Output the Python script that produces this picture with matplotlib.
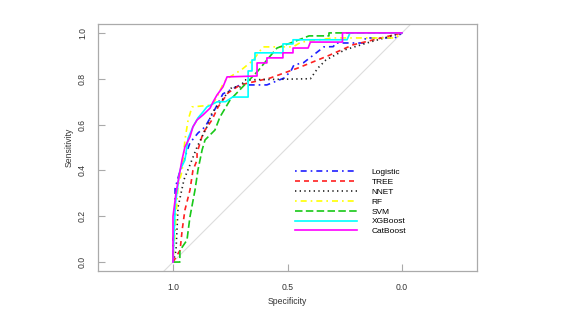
import matplotlib.pyplot as plt

plt.rcParams["font.family"] = ["Liberation Sans", "DejaVu Sans"]

# ROC curves (specificity, sensitivity)
logistic_spec = [1.0, 1.0, 0.991, 0.991, 0.969, 0.926, 0.891, 0.86, 0.83, 0.782, 0.707, 0.59, 0.515, 0.485, 0.472, 0.43, 0.341, 0.30, 0.29, 0.162, 0.16, 0.031, 0.0]
logistic_sens = [0.0, 0.10, 0.14, 0.32, 0.40, 0.52, 0.563, 0.59, 0.642, 0.734, 0.773, 0.773, 0.803, 0.834, 0.86, 0.87, 0.939, 0.94, 0.956, 0.956, 0.978, 0.978, 1.0]

tree_spec = [1.0, 0.969, 0.96, 0.948, 0.926, 0.913, 0.895, 0.895, 0.869, 0.83, 0.803, 0.76, 0.707, 0.576, 0.454, 0.323, 0.214, 0.0]
tree_sens = [0.0, 0.052, 0.14, 0.227, 0.314, 0.40, 0.445, 0.476, 0.563, 0.62, 0.677, 0.738, 0.773, 0.803, 0.847, 0.90, 0.948, 1.0]

nnet_spec = [1.0, 0.987, 0.978, 0.952, 0.926, 0.895, 0.852, 0.83, 0.786, 0.742, 0.707, 0.686, 0.40, 0.367, 0.332, 0.25, 0.14, 0.0]
nnet_sens = [0.0, 0.05, 0.24, 0.36, 0.424, 0.502, 0.59, 0.651, 0.707, 0.764, 0.764, 0.795, 0.80, 0.847, 0.882, 0.926, 0.96, 1.0]

rf_spec = [1.0, 0.987, 0.978, 0.96, 0.948, 0.934, 0.917, 0.83, 0.808, 0.78, 0.764, 0.70, 0.651, 0.607, 0.476, 0.44, 0.30, 0.03, 0.0]
rf_sens = [0.0, 0.20, 0.33, 0.40, 0.533, 0.62, 0.677, 0.685, 0.72, 0.78, 0.80, 0.84, 0.88, 0.939, 0.939, 0.96, 0.978, 0.978, 1.0]

svm_spec = [1.0, 0.97, 0.97, 0.939, 0.926, 0.904, 0.891, 0.873, 0.86, 0.817, 0.795, 0.751, 0.629, 0.59, 0.546, 0.463, 0.406, 0.319, 0.319, 0.0]
svm_sens = [0.0, 0.0, 0.05, 0.096, 0.197, 0.314, 0.402, 0.489, 0.533, 0.576, 0.633, 0.707, 0.834, 0.882, 0.934, 0.965, 0.987, 0.987, 1.0, 1.0]

xgb_spec = [1.0, 0.99, 0.97, 0.948, 0.934, 0.913, 0.891, 0.869, 0.852, 0.808, 0.77, 0.74, 0.672, 0.672, 0.655, 0.655, 0.642, 0.642, 0.52, 0.52, 0.476, 0.476, 0.24, 0.227, 0.0]
xgb_sens = [0.0, 0.25, 0.40, 0.445, 0.54, 0.59, 0.629, 0.655, 0.677, 0.699, 0.70, 0.72, 0.72, 0.834, 0.834, 0.882, 0.882, 0.913, 0.913, 0.952, 0.952, 0.97, 0.97, 1.0, 1.0]

cat_spec = [1.0, 1.0, 0.987, 0.961, 0.948, 0.926, 0.913, 0.895, 0.869, 0.838, 0.825, 0.808, 0.782, 0.773, 0.764, 0.633, 0.633, 0.59, 0.59, 0.52, 0.52, 0.476, 0.476, 0.41, 0.40, 0.26, 0.26, 0.0]
cat_sens = [0.0, 0.20, 0.30, 0.445, 0.502, 0.546, 0.59, 0.62, 0.642, 0.672, 0.699, 0.729, 0.764, 0.786, 0.808, 0.812, 0.869, 0.869, 0.891, 0.891, 0.913, 0.913, 0.934, 0.934, 0.96, 0.96, 1.0, 1.0]

models = ["Logistic", "TREE", "NNET", "RF", "SVM", "XGBoost", "CatBoost"]
specs = [logistic_spec, tree_spec, nnet_spec, rf_spec, svm_spec, xgb_spec, cat_spec]
senss = [logistic_sens, tree_sens, nnet_sens, rf_sens, svm_sens, xgb_sens, cat_sens]

colors = ["#1f1fff", "#ff2020", "#222222", "#ffff00", "#18c818", "#00ffff", "#ff00ff"]
dashes = [(1, 2.4, 3.6, 2.4), (3, 2.4), (0.8, 2), (1, 2.4, 3.6, 2.4), (4.5, 2), None, None]

fig = plt.figure(figsize=(5.82, 3.27), dpi=100)
ax = fig.add_axes([0.1684, 0.1713, 0.6512, 0.7554])

# chance line
ax.axline((1, 0), (0, 1), color="#dddddd", lw=0.8, zorder=1)

for name, sp, se, c, d in zip(models, specs, senss, colors, dashes):
    line, = ax.plot(sp, se, color=c, lw=1.2, label=name)
    if d is not None:
        line.set_dashes(d)

ax.set_xlim(1.3275, -0.3275)
ax.set_ylim(-0.039, 1.039)
ax.set_xticks([1.0, 0.5, 0.0])
ax.set_xticklabels(["1.0", "0.5", "0.0"])
ax.set_yticks([0.0, 0.2, 0.4, 0.6, 0.8, 1.0])
ax.set_yticklabels(["0.0", "0.2", "0.4", "0.6", "0.8", "1.0"], rotation=90, va="center")

ax.tick_params(direction="in", length=5, width=0.8, color="#aaaaaa",
               labelsize=6.2, labelcolor="#333333")
ax.tick_params(axis="x", pad=8.5)
ax.tick_params(axis="y", pad=8)
for s in ax.spines.values():
    s.set_color("#aaaaaa")
    s.set_linewidth(0.9)

ax.set_xlabel("Specificity", fontsize=6.2, color="#333333")
ax.set_ylabel("Sensitivity", fontsize=6.2, color="#333333")
ax.xaxis.set_label_coords(0.5, -0.105)
ax.yaxis.set_label_coords(-0.063, 0.5)

ax.legend(loc="upper left", bbox_to_anchor=(0.507, 0.486), bbox_transform=fig.transFigure,
          frameon=False, fontsize=6, handlelength=7.4, handletextpad=1.8,
          labelspacing=0.25, borderpad=0, borderaxespad=0)

plt.savefig("out.png", dpi=100)
plt.close()
